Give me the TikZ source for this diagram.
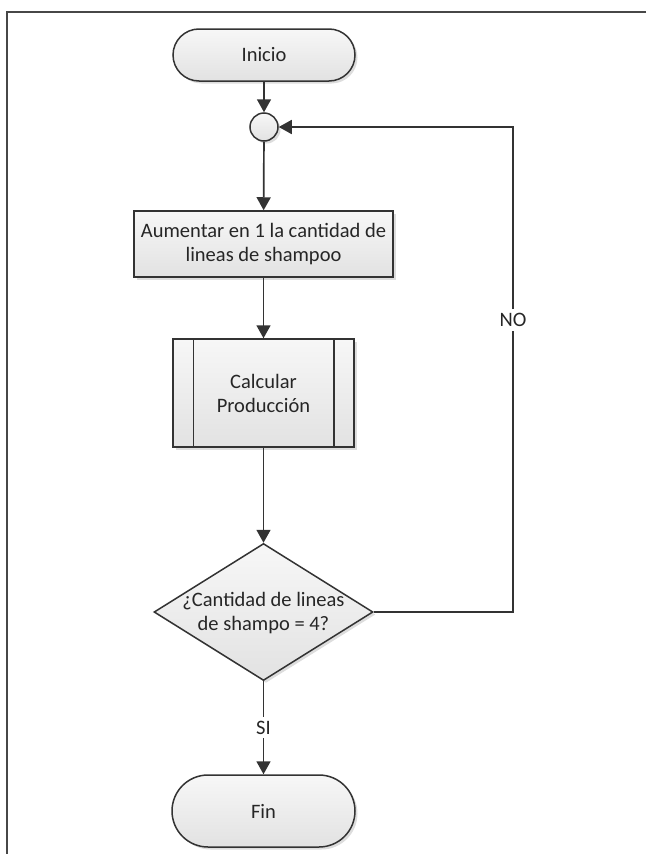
\documentclass[tikz,border=0pt]{standalone}
\usepackage{fontspec}
\setmainfont{Carlito}
\usetikzlibrary{shapes.geometric,arrows.meta,shadows}
\definecolor{linegray}{HTML}{333333}
\definecolor{textgray}{HTML}{262626}
\definecolor{filltop}{HTML}{F7F7F7}
\definecolor{fillbot}{HTML}{E2E2E2}

\begin{document}
\begin{tikzpicture}[x=1pt,y=-1pt,
  shape base/.style={draw=linegray, line width=1.5pt,
    top color=filltop, bottom color=fillbot,
    drop shadow={shadow xshift=2.5pt, shadow yshift=-2.5pt, opacity=0.22, fill=black!60},
    font=\fontsize{20.5}{24}\selectfont, text=textgray, align=center, inner sep=0pt},
  terminal/.style={shape base, rectangle, rounded corners=#1},
  procbox/.style={shape base, rectangle},
  junction/.style={shape base, circle, minimum size=28pt},
  decision/.style={shape base, diamond},
  link/.style={draw=linegray, line width=1.7pt},
  arr/.style={link, -{Triangle[length=13pt,width=14pt]}},
  lbl/.style={fill=white, text=textgray, font=\fontsize{20.5}{24}\selectfont, inner sep=4pt},
  frame/.style={draw=linegray!90, line width=2.2pt}
]
\useasboundingbox (0,0) rectangle (646,854);

% page frame
\draw[frame] (646,12) -- (7,12) -- (7,854);

% start
\node[terminal=26pt, minimum width=182pt, minimum height=52pt] (ini) at (264,55) {Inicio};

% loop junction
\node[junction] (jn) at (264,127) {};

% increment step
\node[procbox, minimum width=259pt, minimum height=66pt] (inc) at (263.5,244)
  {Aumentar en 1 la cantidad de\\lineas de shampoo};

% predefined process
\node[procbox, minimum width=181pt, minimum height=108pt] (calc) at (263.5,393)
  {Calcular\\Producción};
\draw[draw=linegray, line width=1.5pt]
  ([xshift=21pt]calc.north west) -- ([xshift=21pt]calc.south west)
  ([xshift=-21pt]calc.north east) -- ([xshift=-21pt]calc.south east);

% decision
\node[decision, minimum width=219pt, minimum height=137pt] (dec) at (263.5,612) {};
\node[font=\fontsize{20.5}{24}\selectfont, text=textgray, align=center, inner sep=0pt]
  (dectxt) at (263.5,613) {¿Cantidad de lineas\\de shampo = 4?};

% end
\node[terminal=36pt, minimum width=183pt, minimum height=72pt] (fin) at (263.5,811) {Fin};

% connectors
\draw[arr] (ini) -- (jn);
\draw[arr] (jn) -- (inc);
\draw[arr] (inc) -- (calc);
\draw[arr] (calc) -- (dec);
\draw[arr] (dec) -- node[lbl] (si) {SI} (fin);

\node[lbl] (no) at (513,320) {NO};
\draw[link] (dec.east) -| (no);
\draw[arr] (no) |- (jn.east);
\end{tikzpicture}
\end{document}
